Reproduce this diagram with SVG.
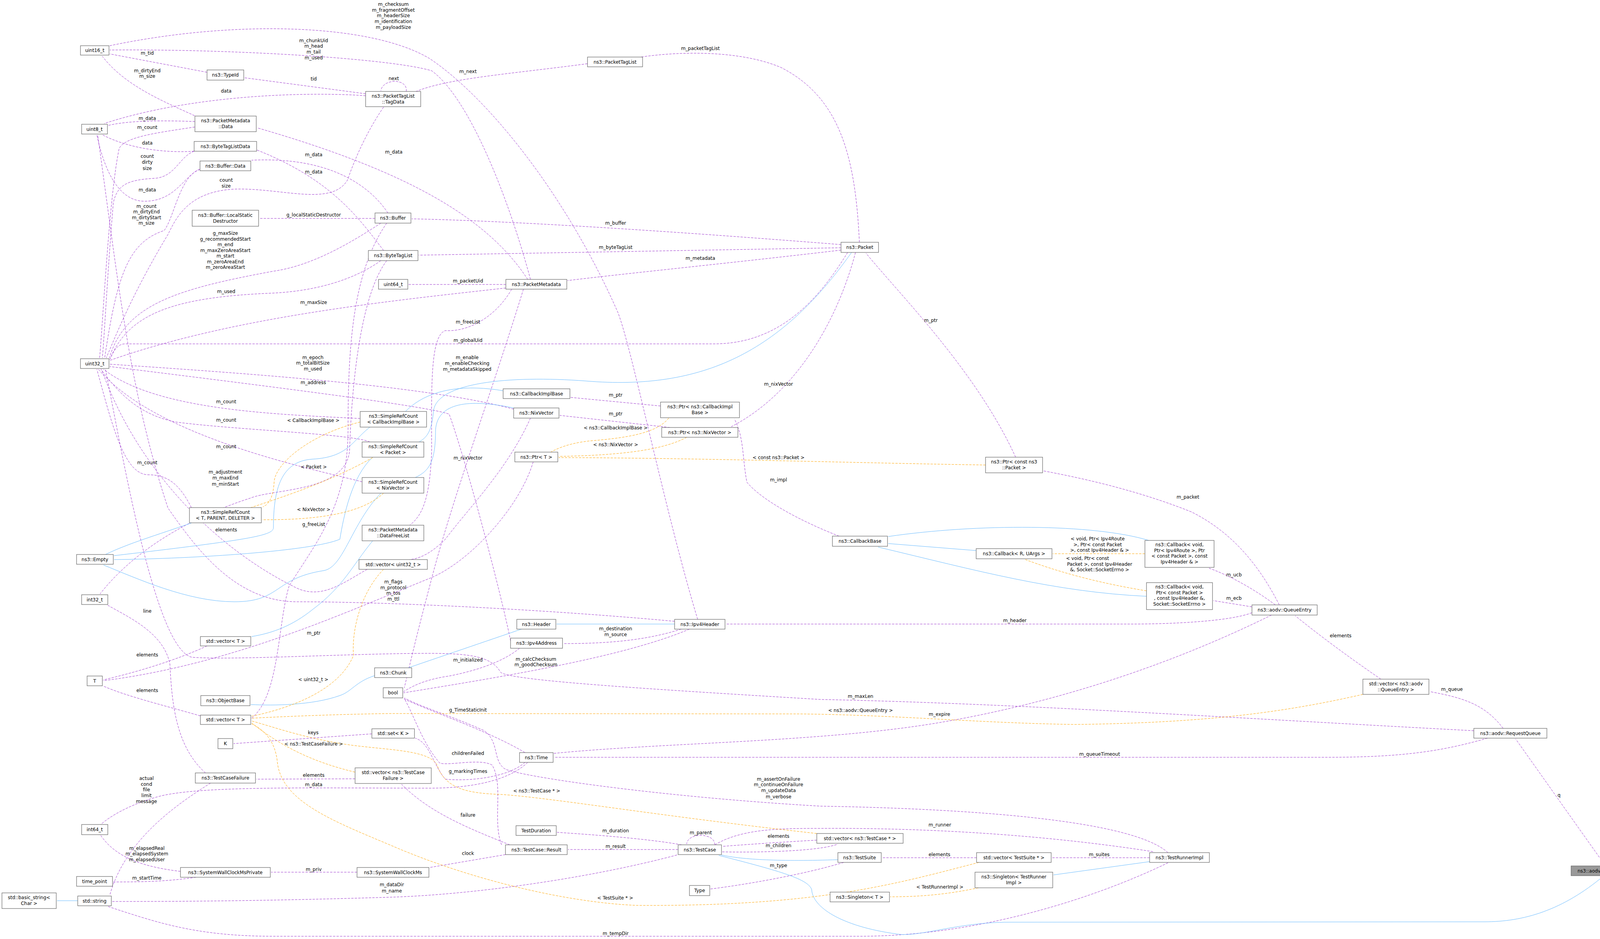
<svg xmlns="http://www.w3.org/2000/svg" width="4227" height="2403" viewBox="0 0 4227 2403">
<style>
text{font-family:"DejaVu Sans","Liberation Sans",sans-serif;font-size:12px;fill:#000;text-anchor:middle}
.n rect{fill:#fff;stroke:#666;stroke-width:1.2}
.n.main rect{fill:#999}
path{fill:none}
.e{stroke:#9a32cd;stroke-dasharray:6,3}
.b{stroke:#63b8ff}
.o{stroke:#ffa500;stroke-dasharray:6,3}
.e{marker-end:url(#mp)}.b{marker-end:url(#mb)}.o{marker-end:url(#mo)}
</style>
<defs>
<marker id="mp" viewBox="0 0 10 10" refX="10" refY="5" markerUnits="userSpaceOnUse" markerWidth="13" markerHeight="10" orient="auto"><path d="M0,0L10,5L0,10z" fill="#9a32cd" stroke="none"/></marker>
<marker id="mb" viewBox="0 0 10 10" refX="10" refY="5" markerUnits="userSpaceOnUse" markerWidth="13" markerHeight="10" orient="auto"><path d="M0,0L10,5L0,10z" fill="#63b8ff" stroke="none"/></marker>
<marker id="mo" viewBox="0 0 10 10" refX="10" refY="5" markerUnits="userSpaceOnUse" markerWidth="13" markerHeight="10" orient="auto"><path d="M0,0L10,5L0,10z" fill="#ffa500" stroke="none"/></marker>
</defs>
<rect width="4227" height="2403" fill="#fff"/>
<g id="edges">
<path class="e" d="M1786,1585 C1700,1300 1620,900 1582,800 C1450,500 1250,250 1100,150 C950,60 600,50 281,117"/>
<text x="1007" y="15">m_checksum</text><text x="1007" y="30">m_fragmentOffset</text><text x="1007" y="44">m_headerSize</text><text x="1007" y="59">m_identification</text><text x="1007" y="74">m_payloadSize</text>
<path class="e" d="M1358,715 C1300,500 1200,250 1105,181 C1000,150 600,125 281,128"/>
<text x="803" y="108">m_chunkUid</text><text x="803" y="122">m_head</text><text x="803" y="137">m_tail</text><text x="803" y="152">m_used</text>
<path class="e" d="M530,185 L281,138"/><text x="377" y="140">m_tid</text>
<path class="e" d="M498,296 C420,260 320,220 262,144"/><text x="377" y="185">m_dirtyEnd</text><text x="377" y="199">m_size</text>
<path class="e" d="M936,245 C800,235 500,240 267,316"/><text x="579" y="237">data</text>
<path class="e" d="M499,311 C420,308 330,308 277,321"/><text x="377" y="307">m_data</text>
<path class="e" d="M497,387 C420,392 330,380 262,345"/><text x="377" y="370">data</text>
<path class="e" d="M512,433 C470,450 450,515 370,515 C310,515 270,450 248,345"/><text x="377" y="490">m_data</text>
<path class="e" d="M499,325 C400,340 320,350 305,380 C280,500 265,800 255,916"/><text x="377" y="330">m_count</text>
<path class="e" d="M497,387 C460,400 450,450 400,456 C330,460 300,470 290,520 C275,700 268,850 262,916"/><text x="377" y="404">count</text><text x="377" y="419">dirty</text><text x="377" y="435">size</text>
<path class="e" d="M512,433 C460,450 445,560 420,590 C330,620 300,700 268,916"/><text x="375" y="532">m_count</text><text x="375" y="546">m_dirtyEnd</text><text x="375" y="561">m_dirtyStart</text><text x="375" y="575">m_size</text>
<path class="e" d="M982,274 C930,350 900,430 890,460 C850,530 720,480 600,484 C480,490 450,560 430,600 C340,750 300,850 272,916"/><text x="579" y="465">count</text><text x="579" y="480">size</text>
<path class="e" d="M975,571 C900,620 800,680 700,694 C450,740 320,780 280,916"/><text x="577" y="601">g_maxSize</text><text x="577" y="616">g_recommendedStart</text><text x="577" y="630">m_end</text><text x="577" y="645">m_maxZeroAreaStart</text><text x="577" y="659">m_start</text><text x="577" y="674">m_zeroAreaEnd</text><text x="577" y="688">m_zeroAreaStart</text>
<path class="e" d="M975,667 C900,720 800,745 700,750 C450,760 330,800 282,918"/><text x="579" y="750">m_used</text>
<path class="e" d="M1295,737 C1000,770 600,810 282,922"/><text x="803" y="778">m_maxSize</text>
<path class="e" d="M2170,646 C2100,760 2000,880 1828,880 L320,880 C300,880 290,900 281,920"/><text x="1198" y="875">m_globalUid</text>
<path class="e" d="M1315,1047 C1100,990 700,960 281,932"/><text x="801" y="919">m_epoch</text><text x="801" y="933">m_totalBitSize</text><text x="801" y="948">m_used</text>
<path class="e" d="M1307,1640 C1290,1550 1200,1200 1150,1060 C1100,1040 700,990 281,938"/><text x="802" y="983">m_address</text>
<path class="e" d="M922,1071 C700,1060 400,1050 265,945"/><text x="579" y="1032">m_count</text>
<path class="e" d="M947,1131 C900,1110 600,1100 450,1080 C350,1060 300,1000 258,945"/><text x="579" y="1079">m_count</text>
<path class="e" d="M927,1233 C800,1200 400,1120 252,945"/><text x="579" y="1147">m_count</text>
<path class="e" d="M490,1299 C460,1240 430,1215 380,1215 C320,1215 290,1100 248,945"/><text x="377" y="1188">m_count</text>
<path class="e" d="M990,667 C920,760 900,1000 895,1150 C890,1260 700,1250 640,1275 C500,1320 350,1400 256,1520"/><text x="577" y="1212">m_adjustment</text><text x="577" y="1227">m_maxEnd</text><text x="577" y="1243">m_minStart</text>
<path class="e" d="M1727,1590 C1400,1560 1000,1540 760,1540 C600,1540 500,1400 430,1300 C330,1000 300,700 250,345"/><text x="1007" y="1493">m_flags</text><text x="1007" y="1508">m_protocol</text><text x="1007" y="1522">m_tos</text><text x="1007" y="1537">m_ttl</text>
<path class="e" d="M1310,740 C1270,810 1200,850 1140,846 C1100,860 1105,1000 1105,1157 C1100,1280 1080,1320 1049,1344"/><text x="1198" y="828">m_freeList</text>
<path class="e" d="M990,571 C900,700 891,900 891,1100 C891,1300 800,1400 740,1500 C710,1600 716,1780 644,1838"/><text x="803" y="1346">g_freeList</text>
<path class="e" d="M1358,1070 C1300,1200 1200,1300 1140,1380 C1100,1420 1070,1430 1049,1432"/><text x="1198" y="1176">m_nixVector</text>
<path class="e" d="M1340,740 C1260,1000 1150,1300 1100,1500 C1060,1650 1045,1720 1035,1760"/><text x="1196" y="919">m_enable</text><text x="1196" y="934">m_enableChecking</text><text x="1196" y="949">m_metadataSkipped</text>
<path class="e" d="M993,545 C950,480 850,400 644,410"/><text x="803" y="400">m_data</text>
<path class="e" d="M982,641 C920,560 850,460 658,384"/><text x="803" y="444">m_data</text>
<path class="e" d="M1351,715 C1250,560 1050,440 658,327"/><text x="1008" y="393">m_data</text>
<path class="e" d="M960,559 L664,559"/><text x="803" y="554">g_localStaticDestructor</text>
<path class="e" d="M936,240 L626,199"/><text x="803" y="206">tid</text>
<path class="e" d="M1040,234 C1045,200 980,200 975,232"/><text x="1008" y="205">next</text>
<path class="e" d="M1504,163 C1300,190 1150,200 1065,234"/><text x="1198" y="187">m_next</text>
<path class="e" d="M2200,620 C2190,400 2150,250 2000,173 C1900,130 1750,130 1640,146"/><text x="1793" y="128">m_packetTagList</text>
<path class="e" d="M2153,626 C1700,590 1300,565 1054,560"/><text x="1576" y="575">m_buffer</text>
<path class="e" d="M2153,634 L1072,653"/><text x="1576" y="637">m_byteTagList</text>
<path class="e" d="M2153,640 C1900,670 1600,700 1453,718"/><text x="1793" y="665">m_metadata</text>
<path class="e" d="M1295,728 L1046,728"/><text x="1198" y="723">m_packetUid</text>
<path class="e" d="M2190,646 C2150,800 2050,1000 1872,1092"/><text x="1993" y="987">m_nixVector</text>
<path class="e" d="M1691,1039 L1461,1017"/><text x="1576" y="1015">m_ptr</text>
<path class="e" d="M1715,1094 L1433,1063"/><text x="1576" y="1063">m_ptr</text>
<path class="e" d="M2600,1170 C2500,950 2300,750 2217,648"/><text x="2383" y="824">m_ptr</text>
<path class="e" d="M2148,1372 C2050,1334 1950,1280 1912,1234 C1900,1170 1905,1120 1880,1072"/><text x="1993" y="1232">m_impl</text>
<path class="e" d="M3265,1548 C3200,1500 3140,1470 3095,1454"/><text x="3159" y="1475">m_ucb</text>
<path class="e" d="M3205,1553 L3106,1537"/><text x="3159" y="1535">m_ecb</text>
<path class="e" d="M3275,1548 C3220,1440 3150,1360 3050,1310 C2900,1250 2750,1220 2671,1205"/><text x="3041" y="1276">m_packet</text>
<path class="e" d="M3205,1568 C3150,1590 3000,1597 2900,1597 L1858,1597"/><text x="2598" y="1592">m_header</text>
<path class="e" d="M3255,1574 C3000,1700 2700,1800 2400,1850 C2100,1900 1700,1900 1418,1928"/><text x="2405" y="1832">m_expire</text>
<path class="e" d="M3535,1738 C3450,1680 3370,1620 3316,1576"/><text x="3432" y="1631">elements</text>
<path class="e" d="M3848,1864 C3800,1800 3740,1785 3661,1770"/><text x="3717" y="1768">m_queue</text>
<path class="e" d="M3773,1870 C3200,1840 2600,1800 2100,1790 C1600,1760 1300,1740 1281,1720 C1260,1680 1200,1672 1100,1672 C900,1672 600,1690 491,1682 C400,1660 320,1200 270,945"/><text x="2203" y="1786">m_maxLen</text>
<path class="e" d="M3808,1889 C3700,1920 3600,1938 3400,1938 L1418,1938"/><text x="2815" y="1934">m_queueTimeout</text>
<path class="e" d="M4110,2216 L3880,1891"/><text x="3991" y="2039">q</text>
<path class="e" d="M2500,2195 L2258,2195"/><text x="2405" y="2191">elements</text>
<path class="e" d="M2943,2195 L2693,2195"/><text x="2814" y="2191">m_suites</text>
<path class="e" d="M2160,2207 C2050,2240 1900,2265 1819,2275"/><text x="1993" y="2219">m_type</text>
<path class="e" d="M2091,2150 C2000,2155 1900,2162 1849,2166"/><text x="1993" y="2144">elements</text>
<path class="e" d="M1849,2180 C1950,2182 2100,2178 2145,2160"/><text x="1993" y="2168">m_children</text>
<path class="e" d="M1830,2162 C1830,2130 1760,2130 1758,2160"/><text x="1794" y="2135">m_parent</text>
<path class="e" d="M1736,2174 L1454,2174"/><text x="1576" y="2170">m_result</text>
<path class="e" d="M1745,2162 C1650,2145 1500,2135 1426,2130"/><text x="1576" y="2130">m_duration</text>
<path class="e" d="M1830,2162 C1900,2120 2000,2120 2100,2120 C2400,2118 2700,2140 2955,2180"/><text x="2406" y="2115">m_runner</text>
<path class="e" d="M2990,2208 C2800,2300 2500,2396 2200,2396 L700,2396 C500,2396 400,2360 277,2320"/><text x="1576" y="2393">m_tempDir</text>
<path class="e" d="M1733,2188 C1500,2250 1200,2290 1000,2296 C700,2305 500,2307 287,2307"/><text x="1003" y="2268">m_dataDir</text><text x="1003" y="2284">m_name</text>
<path class="e" d="M1305,2162 C1200,2120 1100,2080 1028,2007"/><text x="1198" y="2090">failure</text>
<path class="e" d="M1284,2162 C1260,2100 1290,2010 1260,1958 C1230,1940 1150,1960 1126,1953 C1080,1900 1060,1830 1035,1788"/><text x="1198" y="1932">childrenFailed</text>
<path class="e" d="M1294,2187 L1100,2220"/><text x="1198" y="2188">clock</text>
<path class="e" d="M1344,1926 C1250,1870 1100,1820 1033,1788"/><text x="1198" y="1821">g_TimeStaticInit</text>
<path class="e" d="M1330,1659 C1280,1700 1200,1720 1150,1730 C1080,1740 1050,1760 1033,1770"/><text x="1198" y="1693">m_initialized</text>
<path class="e" d="M1765,1610 C1600,1680 1300,1730 1033,1773"/><text x="1372" y="1691">m_calcChecksum</text><text x="1372" y="1705">m_goodChecksum</text>
<path class="e" d="M1744,1610 C1650,1640 1550,1647 1442,1647"/><text x="1576" y="1613">m_destination</text><text x="1576" y="1628">m_source</text>
<path class="e" d="M2990,2182 C2900,2100 2500,2070 2100,2063 C1700,2040 1350,1990 1295,1969 C1260,1950 1280,1900 1240,1870 C1150,1830 1080,1810 1035,1786"/><text x="1993" y="1998">m_assertOnFailure</text><text x="1993" y="2012">m_continueOnFailure</text><text x="1993" y="2027">m_updateData</text><text x="1993" y="2043">m_verbose</text>
<path class="e" d="M1344,1951 C1300,1990 1200,2000 1140,1994 C1110,1960 1100,1900 1063,1889"/><text x="1198" y="1978">g_markingTimes</text>
<path class="e" d="M1351,1951 C1300,2000 1200,2017 1100,2017 C800,2017 500,2010 400,2040 C330,2060 280,2090 258,2110"/><text x="803" y="2012">m_data</text>
<path class="e" d="M952,1878 L598,1903"/><text x="802" y="1879">keys</text>
<path class="e" d="M539,2004 C450,2060 320,2150 281,2291"/><text x="375" y="1996">actual</text><text x="375" y="2011">cond</text><text x="375" y="2025">file</text><text x="375" y="2040">limit</text><text x="375" y="2055">message</text>
<path class="e" d="M526,1978 C450,1910 440,1800 435,1700 C420,1620 330,1580 276,1549"/><text x="377" y="1568">line</text>
<path class="e" d="M909,1993 L656,1994"/><text x="803" y="1988">elements</text>
<path class="e" d="M914,2232 L694,2232"/><text x="803" y="2229">m_priv</text>
<path class="e" d="M462,2230 C380,2220 300,2200 258,2138"/><text x="376" y="2175">m_elapsedReal</text><text x="376" y="2189">m_elapsedSystem</text><text x="376" y="2204">m_elapsedUser</text>
<path class="e" d="M502,2245 C420,2257 350,2257 290,2257"/><text x="376" y="2251">m_startTime</text>
<path class="e" d="M530,1653 C450,1690 350,1720 264,1740"/><text x="377" y="1680">elements</text>
<path class="e" d="M513,1832 C400,1800 320,1780 265,1756"/><text x="377" y="1771">elements</text>
<path class="e" d="M1365,1182 C1330,1300 1200,1440 1100,1480 C900,1560 600,1700 264,1742"/><text x="803" y="1624">m_ptr</text>
<path class="e" d="M940,1457 C880,1490 820,1540 750,1500 C550,1400 350,1200 260,945"/><text x="579" y="1360">elements</text>
<path class="b" d="M947,1093 C900,1130 890,1170 800,1175 C720,1180 700,1250 700,1350 C700,1370 650,1380 292,1422"/>
<path class="b" d="M954,1170 C900,1220 880,1320 870,1380 C800,1410 500,1430 292,1432"/>
<path class="b" d="M975,1262 C900,1340 880,1450 830,1460 C700,1480 720,1540 600,1540 C480,1540 350,1480 265,1446"/>
<path class="b" d="M491,1338 C400,1370 330,1390 270,1419"/>
<path class="b" d="M1288,1000 C1200,985 1100,990 1038,1053"/>
<path class="b" d="M2180,646 C2000,900 1800,1000 1500,975 C1300,960 1120,980 1110,1050 C1105,1110 1090,1120 1073,1131"/>
<path class="b" d="M1315,1044 C1200,1020 1120,1030 1115,1100 C1115,1180 1100,1205 1063,1222"/>
<path class="b" d="M954,1384 C900,1450 880,1500 800,1560 C750,1600 700,1620 644,1629"/>
<path class="b" d="M2499,1409 L2274,1391"/>
<path class="b" d="M2941,1383 C2800,1340 2500,1340 2274,1373"/>
<path class="b" d="M2935,1526 C2700,1515 2500,1460 2248,1400"/>
<path class="b" d="M1727,1597 L1425,1597"/>
<path class="b" d="M1335,1610 L1045,1709"/>
<path class="b" d="M959,1729 C910,1745 900,1770 870,1780 C800,1805 700,1806 642,1803"/>
<path class="b" d="M4106,2241 C4000,2330 3900,2359 3800,2359 L2583,2360 C2450,2360 2350,2400 2295,2390 C2150,2370 2080,2320 2078,2277 C2070,2250 2000,2230 1840,2189"/>
<path class="b" d="M2145,2200 C2000,2205 1900,2200 1847,2188"/>
<path class="b" d="M2943,2205 L2697,2239"/>
<path class="b" d="M199,2305 L146,2305"/>
<path class="o" d="M922,1080 C800,1110 710,1180 702,1230 C700,1270 690,1290 673,1297"/><text x="802" y="1080">&lt; CallbackImplBase &gt;</text>
<path class="o" d="M954,1171 C850,1230 730,1270 642,1299"/><text x="803" y="1199">&lt; Packet &gt;</text>
<path class="o" d="M982,1262 C930,1310 830,1331 671,1330"/><text x="803" y="1308">&lt; NixVector &gt;</text>
<path class="o" d="M1712,1070 C1680,1110 1600,1120 1526,1127 C1480,1130 1440,1140 1410,1157"/><text x="1576" y="1099">&lt; ns3::CallbackImplBase &gt;</text>
<path class="o" d="M1758,1119 C1700,1150 1600,1165 1430,1168"/><text x="1576" y="1142">&lt; ns3::NixVector &gt;</text>
<path class="o" d="M2523,1190 C2200,1185 1800,1172 1430,1171"/><text x="1993" y="1175">&lt; const ns3::Packet &gt;</text>
<path class="o" d="M2931,1417 L2695,1417"/><text x="2810" y="1383">&lt; void, Ptr&lt; Ipv4Route</text><text x="2810" y="1398">&gt;, Ptr&lt; const Packet</text><text x="2815" y="1412">&gt;, const Ipv4Header &amp; &gt;</text>
<path class="o" d="M2935,1512 C2800,1490 2700,1460 2625,1432"/><text x="2784" y="1433">&lt; void, Ptr&lt; const</text><text x="2815" y="1448">Packet &gt;, const Ipv4Header</text><text x="2815" y="1462">&amp;, Socket::SocketErrno &gt;</text>
<path class="o" d="M3489,1777 C3300,1820 3100,1850 2750,1854 C2500,1850 2300,1830 2050,1827 L1000,1826 C850,1828 700,1835 644,1838"/><text x="2203" y="1822">&lt; ns3::aodv::QueueEntry &gt;</text>
<path class="o" d="M2506,2207 C2300,2260 2100,2320 1631,2317 C1450,2310 1200,2250 1000,2163 C850,2100 720,2050 710,1950 C705,1900 680,1870 644,1852"/><text x="1575" y="2302">&lt; TestSuite * &gt;</text>
<path class="o" d="M2091,2133 C1700,2090 1400,2040 1281,2033 C1200,2030 1140,2020 1119,1958 C1100,1920 1000,1920 900,1907 C780,1890 700,1860 644,1845"/><text x="1374" y="2028">&lt; ns3::TestCase * &gt;</text>
<path class="o" d="M909,1976 C800,1950 720,1910 644,1850"/><text x="803" y="1908">&lt; ns3::TestCaseFailure &gt;</text>
<path class="o" d="M982,1457 C920,1520 900,1620 905,1677 C880,1740 800,1800 644,1833"/><text x="802" y="1743">&lt; uint32_t &gt;</text>
<path class="o" d="M2505,2272 C2420,2290 2350,2295 2279,2295"/><text x="2406" y="2274">&lt; TestRunnerImpl &gt;</text>
</g>
<g id="n_uint16" class="n"><rect x="206" y="117" width="73" height="24"/><text x="242.5" y="133">uint16_t</text></g>
<g id="n_uint8" class="n"><rect x="209" y="318" width="66" height="25"/><text x="242" y="335">uint8_t</text></g>
<g id="n_typeid" class="n"><rect x="530" y="179" width="94" height="26"/><text x="577" y="196">ns3::TypeId</text></g>
<g id="n_tagdata" class="n"><rect x="936" y="234" width="141" height="39"/><text x="1006.5" y="250">ns3::PacketTagList</text><text x="1006.5" y="265">::TagData</text></g>
<g id="n_pmdata" class="n"><rect x="499" y="297" width="157" height="40"/><text x="577.5" y="313">ns3::PacketMetadata</text><text x="577.5" y="328">::Data</text></g>
<g id="n_btld" class="n"><rect x="497" y="362" width="160" height="25"/><text x="577" y="379">ns3::ByteTagListData</text></g>
<g id="n_bufdata" class="n"><rect x="512" y="412" width="130" height="25"/><text x="577" y="429">ns3::Buffer::Data</text></g>
<g id="n_lsd" class="n"><rect x="492" y="538" width="170" height="41"/><text x="577" y="555">ns3::Buffer::LocalStatic</text><text x="577" y="570">Destructor</text></g>
<g id="n_buffer" class="n"><rect x="960" y="545" width="92" height="26"/><text x="1006" y="562">ns3::Buffer</text></g>
<g id="n_btl" class="n"><rect x="943" y="641" width="127" height="26"/><text x="1006.5" y="658">ns3::ByteTagList</text></g>
<g id="n_uint64" class="n"><rect x="969" y="715" width="75" height="25"/><text x="1006.5" y="732">uint64_t</text></g>
<g id="n_ptl" class="n"><rect x="1504" y="146" width="141" height="25"/><text x="1574.5" y="163">ns3::PacketTagList</text></g>
<g id="n_pm" class="n"><rect x="1295" y="715" width="156" height="25"/><text x="1373" y="732">ns3::PacketMetadata</text></g>
<g id="n_packet" class="n"><rect x="2153" y="620" width="96" height="26"/><text x="2201" y="637">ns3::Packet</text></g>
<g id="n_uint32" class="n"><rect x="206" y="918" width="73" height="25"/><text x="242.5" y="935">uint32_t</text></g>
<g id="n_src_cib" class="n"><rect x="922" y="1053" width="170" height="40"/><text x="1007" y="1069">ns3::SimpleRefCount</text><text x="1007" y="1084">&lt; CallbackImplBase &gt;</text></g>
<g id="n_src_p" class="n"><rect x="927" y="1131" width="158" height="39"/><text x="1006" y="1147">ns3::SimpleRefCount</text><text x="1006" y="1162">&lt; Packet &gt;</text></g>
<g id="n_src_n" class="n"><rect x="927" y="1222" width="158" height="40"/><text x="1006" y="1238">ns3::SimpleRefCount</text><text x="1006" y="1253">&lt; NixVector &gt;</text></g>
<g id="n_src_t" class="n"><rect x="485" y="1299" width="184" height="39"/><text x="577" y="1315">ns3::SimpleRefCount</text><text x="577" y="1330">&lt; T, PARENT, DELETER &gt;</text></g>
<g id="n_empty" class="n"><rect x="196" y="1419" width="94" height="25"/><text x="243" y="1436">ns3::Empty</text></g>
<g id="n_dfl" class="n"><rect x="927" y="1344" width="158" height="40"/><text x="1006" y="1360">ns3::PacketMetadata</text><text x="1006" y="1375">::DataFreeList</text></g>
<g id="n_vecu32" class="n"><rect x="919" y="1432" width="175" height="25"/><text x="1006.5" y="1449">std::vector&lt; uint32_t &gt;</text></g>
<g id="n_int32" class="n"><rect x="209" y="1522" width="67" height="25"/><text x="242.5" y="1539">int32_t</text></g>
<g id="n_cib" class="n"><rect x="1288" y="995" width="171" height="25"/><text x="1373.5" y="1012">ns3::CallbackImplBase</text></g>
<g id="n_nix" class="n"><rect x="1315" y="1044" width="116" height="26"/><text x="1373" y="1061">ns3::NixVector</text></g>
<g id="n_ptrcib" class="n"><rect x="1691" y="1029" width="202" height="40"/><text x="1792" y="1045">ns3::Ptr&lt; ns3::CallbackImpl</text><text x="1792" y="1060">Base &gt;</text></g>
<g id="n_ptrnv" class="n"><rect x="1694" y="1094" width="195" height="25"/><text x="1791.5" y="1111">ns3::Ptr&lt; ns3::NixVector &gt;</text></g>
<g id="n_ptrt" class="n"><rect x="1318" y="1157" width="110" height="25"/><text x="1373" y="1174">ns3::Ptr&lt; T &gt;</text></g>
<g id="n_ptrcp" class="n"><rect x="2523" y="1170" width="146" height="40"/><text x="2596" y="1186">ns3::Ptr&lt; const ns3</text><text x="2596" y="1201">::Packet &gt;</text></g>
<g id="n_header" class="n"><rect x="1323" y="1585" width="100" height="25"/><text x="1373" y="1602">ns3::Header</text></g>
<g id="n_ipv4h" class="n"><rect x="1727" y="1585" width="129" height="25"/><text x="1791.5" y="1602">ns3::Ipv4Header</text></g>
<g id="n_ipv4a" class="n"><rect x="1307" y="1633" width="133" height="26"/><text x="1373.5" y="1650">ns3::Ipv4Address</text></g>
<g id="n_vect1" class="n"><rect x="513" y="1629" width="129" height="24"/><text x="577.5" y="1645">std::vector&lt; T &gt;</text></g>
<g id="n_t" class="n"><rect x="223" y="1730" width="39" height="25"/><text x="242.5" y="1747">T</text></g>
<g id="n_objbase" class="n"><rect x="514" y="1780" width="126" height="26"/><text x="577" y="1797">ns3::ObjectBase</text></g>
<g id="n_vect2" class="n"><rect x="513" y="1830" width="129" height="24"/><text x="577.5" y="1846">std::vector&lt; T &gt;</text></g>
<g id="n_k" class="n"><rect x="558" y="1890" width="38" height="26"/><text x="577" y="1907">K</text></g>
<g id="n_setk" class="n"><rect x="952" y="1865" width="109" height="24"/><text x="1006.5" y="1881">std::set&lt; K &gt;</text></g>
<g id="n_chunk" class="n"><rect x="959" y="1709" width="95" height="25"/><text x="1006.5" y="1726">ns3::Chunk</text></g>
<g id="n_bool" class="n"><rect x="981" y="1760" width="50" height="26"/><text x="1006" y="1777">bool</text></g>
<g id="n_tcf" class="n"><rect x="500" y="1978" width="154" height="26"/><text x="577" y="1995">ns3::TestCaseFailure</text></g>
<g id="n_vectcf" class="n"><rect x="909" y="1965" width="195" height="40"/><text x="1006.5" y="1981">std::vector&lt; ns3::TestCase</text><text x="1006.5" y="1996">Failure &gt;</text></g>
<g id="n_int64" class="n"><rect x="209" y="2110" width="67" height="26"/><text x="242.5" y="2127">int64_t</text></g>
<g id="n_swcmp" class="n"><rect x="462" y="2220" width="230" height="25"/><text x="577" y="2237">ns3::SystemWallClockMsPrivate</text></g>
<g id="n_timepoint" class="n"><rect x="196" y="2243" width="92" height="25"/><text x="242" y="2260">time_point</text></g>
<g id="n_basicstring" class="n"><rect x="5" y="2285" width="139" height="40"/><text x="74.5" y="2301">std::basic_string&lt;</text><text x="74.5" y="2316">Char &gt;</text></g>
<g id="n_string" class="n"><rect x="199" y="2293" width="86" height="25"/><text x="242" y="2310">std::string</text></g>
<g id="n_swcm" class="n"><rect x="914" y="2220" width="184" height="25"/><text x="1006" y="2237">ns3::SystemWallClockMs</text></g>
<g id="n_time" class="n"><rect x="1330" y="1926" width="86" height="25"/><text x="1373" y="1943">ns3::Time</text></g>
<g id="n_testduration" class="n"><rect x="1321" y="2113" width="103" height="25"/><text x="1372.5" y="2130">TestDuration</text></g>
<g id="n_result" class="n"><rect x="1294" y="2162" width="158" height="25"/><text x="1373" y="2179">ns3::TestCase::Result</text></g>
<g id="n_testcase" class="n"><rect x="1736" y="2162" width="111" height="25"/><text x="1791.5" y="2179">ns3::TestCase</text></g>
<g id="n_type" class="n"><rect x="1765" y="2266" width="52" height="26"/><text x="1791" y="2283">Type</text></g>
<g id="n_cbbase" class="n"><rect x="2131" y="1372" width="141" height="26"/><text x="2201.5" y="1389">ns3::CallbackBase</text></g>
<g id="n_cbr" class="n"><rect x="2499" y="1404" width="194" height="26"/><text x="2596" y="1421">ns3::Callback&lt; R, UArgs &gt;</text></g>
<g id="n_cbroute" class="n"><rect x="2931" y="1383" width="177" height="69"/><text x="3019.5" y="1398">ns3::Callback&lt; void,</text><text x="3019.5" y="1413">Ptr&lt; Ipv4Route &gt;, Ptr</text><text x="3019.5" y="1427">&lt; const Packet &gt;, const</text><text x="3019.5" y="1442">Ipv4Header &amp; &gt;</text></g>
<g id="n_cberr" class="n"><rect x="2935" y="1491" width="169" height="69"/><text x="3019.5" y="1506">ns3::Callback&lt; void,</text><text x="3019.5" y="1521">Ptr&lt; const Packet &gt;</text><text x="3019.5" y="1535">, const Ipv4Header &amp;,</text><text x="3019.5" y="1550">Socket::SocketErrno &gt;</text></g>
<g id="n_qe" class="n"><rect x="3205" y="1548" width="167" height="26"/><text x="3288.5" y="1565">ns3::aodv::QueueEntry</text></g>
<g id="n_vecqe" class="n"><rect x="3489" y="1738" width="169" height="39"/><text x="3573.5" y="1754">std::vector&lt; ns3::aodv</text><text x="3573.5" y="1769">::QueueEntry &gt;</text></g>
<g id="n_rq" class="n"><rect x="3773" y="1864" width="187" height="25"/><text x="3866.5" y="1881">ns3::aodv::RequestQueue</text></g>
<g id="n_aodv" class="n main"><rect x="4022" y="2216" width="199" height="25"/><text x="4121.5" y="2233">ns3::aodv::AodvRqueueTest</text></g>
<g id="n_vectc" class="n"><rect x="2091" y="2133" width="221" height="25"/><text x="2201.5" y="2150">std::vector&lt; ns3::TestCase * &gt;</text></g>
<g id="n_testsuite" class="n"><rect x="2145" y="2182" width="111" height="25"/><text x="2200.5" y="2199">ns3::TestSuite</text></g>
<g id="n_vects" class="n"><rect x="2500" y="2182" width="191" height="25"/><text x="2595.5" y="2199">std::vector&lt; TestSuite * &gt;</text></g>
<g id="n_tri" class="n"><rect x="2943" y="2182" width="153" height="25"/><text x="3019.5" y="2199">ns3::TestRunnerImpl</text></g>
<g id="n_singtri" class="n"><rect x="2496" y="2232" width="199" height="40"/><text x="2595.5" y="2248">ns3::Singleton&lt; TestRunner</text><text x="2595.5" y="2263">Impl &gt;</text></g>
<g id="n_singt" class="n"><rect x="2125" y="2283" width="152" height="25"/><text x="2201" y="2300">ns3::Singleton&lt; T &gt;</text></g>
</svg>
